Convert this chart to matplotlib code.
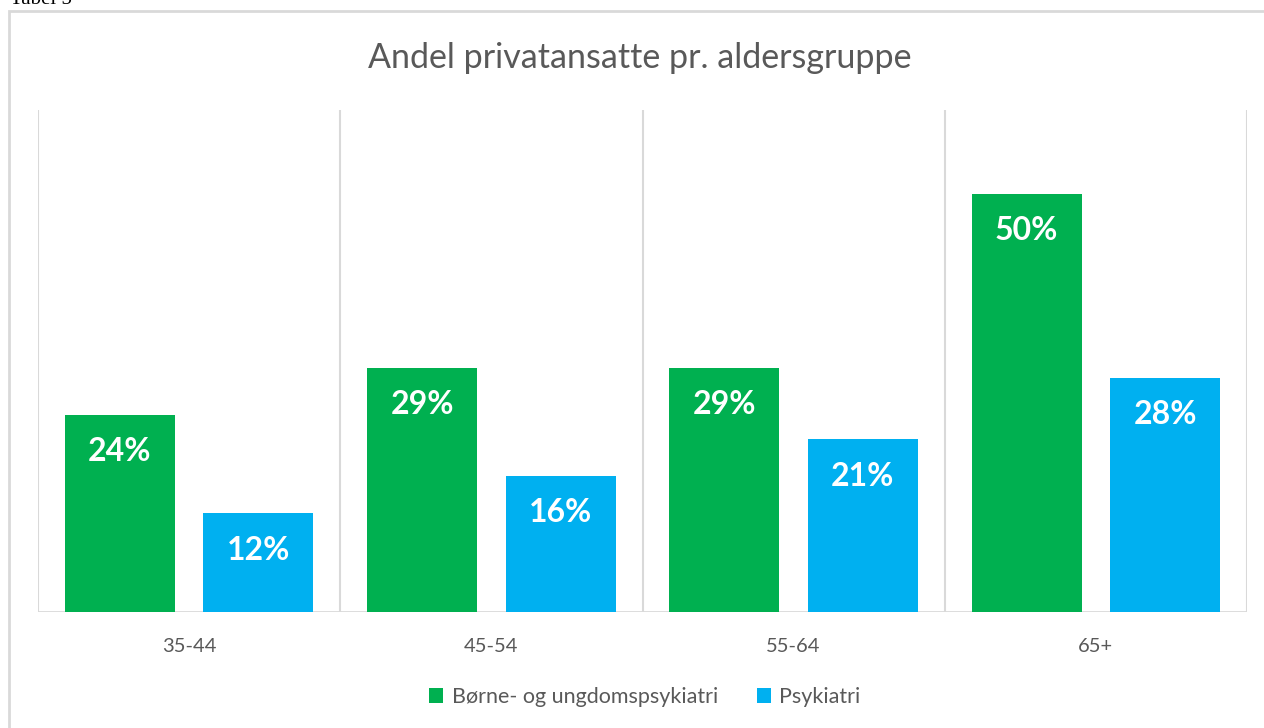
import matplotlib
matplotlib.use("Agg")
import matplotlib.pyplot as plt
import matplotlib.patches as patches
import numpy as np

# data
groups = ["35-44", "45-54", "55-64", "65+"]
borne = [0.236, 0.292, 0.292, 0.50]
psyk = [0.118, 0.163, 0.207, 0.28]
borne_labels = ["24%", "29%", "29%", "50%"]
psyk_labels = ["12%", "16%", "21%", "28%"]
series_names = ["Børne- og ungdomspsykiatri", "Psykiatri"]

green = "#00B050"
blue = "#00B0F0"
grid_col = "#D9D9D9"
text_col = "#595959"

plt.rcParams["font.family"] = ["Lato", "DejaVu Sans"]

fig = plt.figure(figsize=(12.64, 7.28), dpi=100)
W, H = 1264, 728

# chart frame (runs off the right/bottom edge like the screenshot)
frame = patches.Rectangle((9 / W, -0.05), 1.1, 1 - 11 / H + 0.05, transform=fig.transFigure,
                          fill=False, edgecolor=grid_col, linewidth=2, clip_on=False)
fig.patches.append(frame)

# partly cut off caption above the chart
fig.text(10 / W, 1 - 4 / H, "Tabel 5", family="Liberation Serif", fontsize=15,
         va="baseline", ha="left", color="black")

ax = fig.add_axes([38 / W, 1 - 612 / H, 1209 / W, 502 / H])
x = np.arange(len(groups))
w = 0.364
off = 0.229

b1 = ax.bar(x - off, borne, w, color=green, label=series_names[0], zorder=3)
b2 = ax.bar(x + off, psyk, w, color=blue, label=series_names[1], zorder=3)

for bars, labs in [(b1, borne_labels), (b2, psyk_labels)]:
    for rect, lab in zip(bars, labs):
        ax.text(rect.get_x() + rect.get_width() / 2, rect.get_height() - 0.0445, lab,
                ha="center", va="center", color="white", fontsize=23, fontweight="bold", zorder=4)

ax.set_xlim(-0.5, len(groups) - 0.5)
ax.set_ylim(0, 0.6)

for xv in np.arange(-0.5, len(groups), 1.0):
    ax.axvline(xv, color=grid_col, linewidth=1.5, zorder=1)
ax.axhline(0, color=grid_col, linewidth=2, zorder=2)

for s in ax.spines.values():
    s.set_visible(False)
ax.set_yticks([])
ax.set_xticks(x)
ax.set_xticklabels(groups, fontsize=14.5, color=text_col)
ax.tick_params(axis="x", length=0, pad=19)

fig.text(640 / W, 1 - 58 / H, "Andel privatansatte pr. aldersgruppe", ha="center", va="center",
         fontsize=24.5, color=text_col)

fig.legend(handles=[b1, b2], labels=series_names, loc="center", bbox_to_anchor=(645 / W, 1 - 697 / H),
           ncol=2, frameon=False, fontsize=15.5, labelcolor=text_col, handlelength=0.65,
           handleheight=0.65, handletextpad=0.4, columnspacing=1.8)

fig.savefig("out.png", dpi=100)
